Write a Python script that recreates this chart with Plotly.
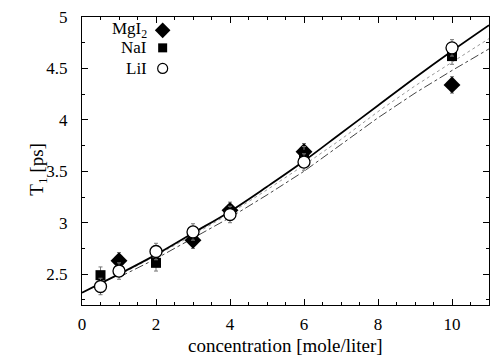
import plotly.graph_objects as go

# ---- data ----
mg_x = [1, 3, 4, 6, 10]
mg_y = [2.63, 2.83, 3.12, 3.69, 4.34]
na_x = [0.5, 2, 6, 10]
na_y = [2.49, 2.61, 3.66, 4.62]
li_x = [0.5, 1, 2, 3, 4, 6, 10]
li_y = [2.38, 2.53, 2.72, 2.91, 3.08, 3.59, 4.70]
err = 0.08

fit_x = [0, 0.5, 1, 2, 3, 4, 5, 6, 7, 8, 9, 10, 11]
solid_y = [2.32, 2.41, 2.50, 2.69, 2.90, 3.11, 3.35, 3.60, 3.87, 4.14, 4.41, 4.67, 4.92]
dot_x = [1, 2, 3, 4, 5, 6, 7, 8, 9, 10, 11]
dot_y = [2.49, 2.68, 2.88, 3.09, 3.32, 3.56, 3.81, 4.08, 4.33, 4.56, 4.79]
dd_x = [1, 2, 3, 4, 5, 6, 7, 8, 9, 10, 11]
dd_y = [2.47, 2.65, 2.85, 3.05, 3.27, 3.50, 3.76, 4.02, 4.26, 4.48, 4.69]

legend_names = ["MgI<sub>2</sub>", "NaI", "LiI"]

FONT = "Liberation Serif, Times New Roman, serif"

fig = go.Figure()
fig.add_trace(go.Scatter(x=dd_x, y=dd_y, mode="lines",
                         line=dict(color="#444", width=1, dash="dashdot"), showlegend=False))
fig.add_trace(go.Scatter(x=dot_x, y=dot_y, mode="lines",
                         line=dict(color="#999", width=1, dash="dot"), showlegend=False))
fig.add_trace(go.Scatter(x=fit_x, y=solid_y, mode="lines", line_shape="spline",
                         line=dict(color="black", width=1.8), showlegend=False))

ebar = dict(type="constant", value=err, color="#777", thickness=1, width=2)
mg_marker = dict(symbol="diamond", size=13, color="black")
na_marker = dict(symbol="square", size=10, color="black")
li_marker = dict(symbol="circle", size=12, color="white", line=dict(color="black", width=1.3))
fig.add_trace(go.Scatter(x=mg_x, y=mg_y, mode="markers", error_y=ebar, marker=mg_marker, showlegend=False))
fig.add_trace(go.Scatter(x=na_x, y=na_y, mode="markers", error_y=ebar, marker=na_marker, showlegend=False))
fig.add_trace(go.Scatter(x=li_x, y=li_y, mode="markers", error_y=ebar, marker=li_marker, showlegend=False))

# custom legend (marker right of text), placed in the upper-left of the plot area
leg_x = 2.18
leg_y = [4.87, 4.70, 4.50]
leg_markers = [dict(symbol="diamond", size=12, color="black"),
               dict(symbol="square", size=9, color="black"),
               dict(symbol="circle", size=10, color="white", line=dict(color="black", width=1.2))]
for name, yy, mk in zip(legend_names, leg_y, leg_markers):
    fig.add_trace(go.Scatter(x=[leg_x], y=[yy], mode="markers", marker=mk,
                             showlegend=False, hoverinfo="skip"))
    fig.add_annotation(x=leg_x - 0.40, y=yy, xref="x", yref="y", text=name, showarrow=False,
                       xanchor="right", yanchor="middle", borderpad=0,
                       font=dict(family=FONT, size=17, color="black"))

# axis titles as annotations for exact placement
fig.add_annotation(x=0.5, y=-0.139, xref="paper", yref="paper", text="concentration [mole/liter]",
                   showarrow=False, xanchor="center", yanchor="middle",
                   font=dict(family=FONT, size=19, color="black"))
fig.add_annotation(x=-0.108, y=0.47, xref="paper", yref="paper", text="T<sub>1</sub> [ps]",
                   showarrow=False, xanchor="center", yanchor="middle", textangle=-90,
                   font=dict(family=FONT, size=19, color="black"))

axis_common = dict(showgrid=False, zeroline=False, showline=True, linecolor="black", linewidth=1,
                   mirror="ticks", ticks="inside", tickcolor="black", ticklen=6, tickwidth=1,
                   automargin=False,
                   tickfont=dict(family=FONT, size=17, color="black"))

fig.update_layout(
    width=490, height=360,
    margin=dict(l=82, r=1, t=17, b=55),
    paper_bgcolor="white", plot_bgcolor="white",
    xaxis=dict(range=[0, 11], dtick=2, tick0=0, ticklabelstandoff=4,
               minor=dict(dtick=0.5, ticks="inside", ticklen=3, tickcolor="black"),
               **axis_common),
    yaxis=dict(range=[2.2, 5], dtick=0.5, tick0=2.5, ticklabelstandoff=10,
               minor=dict(dtick=0.25, ticks="inside", ticklen=3, tickcolor="black"),
               **axis_common),
    showlegend=False,
)
fig.write_html("out.html", post_script="document.body.style.margin='0';",
               config={"displayModeBar": False})
